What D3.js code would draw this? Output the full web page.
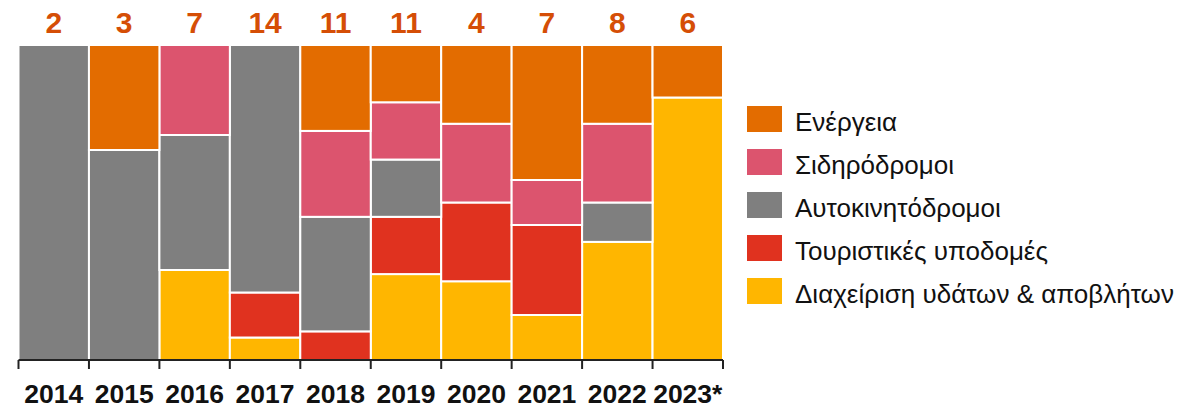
<!DOCTYPE html>
<html><head><meta charset="utf-8">
<script src="https://cdn.jsdelivr.net/npm/d3@7"></script>
<style>body{margin:0;background:#fff}svg{display:block;font-family:"Liberation Sans",Arial,sans-serif}</style>
</head><body>
<svg id="c" width="1188" height="408"></svg>
<script>
const years = ['2014','2015','2016','2017','2018','2019','2020','2021','2022','2023*'];
const categories = ['Ενέργεια','Σιδηρόδρομοι','Αυτοκινητόδρομοι','Τουριστικές υποδομές','Διαχείριση υδάτων & αποβλήτων'];
const energy  = [0,1,0,0,3,2,1,3,2,1];
const rail    = [0,0,2,0,3,2,1,1,2,0];
const roads   = [2,2,3,11,4,2,0,0,1,0];
const tourism = [0,0,0,2,1,2,1,2,0,0];
const water   = [0,0,2,1,0,3,1,1,3,5];
const colors = ['#E36C00','#DC546E','#7F7F7F','#E0321F','#FFB600'];

const series = [energy, rail, roads, tourism, water];
const rows = years.map((y,i)=>{const o={year:y}; categories.forEach((c,j)=>o[c]=series[j][i]); return o;});
const totals = years.map((y,i)=>series.reduce((s,a)=>s+a[i],0));

const svg = d3.select('#c');
const x = d3.scaleBand().domain(years).range([18.5,723]).padding(0);
const y = d3.scaleLinear().domain([0,1]).range([360,45]);
const color = d3.scaleOrdinal().domain(categories).range(colors);

const stack = d3.stack().keys(categories.slice().reverse()).offset(d3.stackOffsetExpand);
const stacked = stack(rows);

svg.append('g').selectAll('g').data(stacked).join('g')
  .attr('fill', d=>color(d.key))
  .selectAll('rect').data(d=>d.filter(p=>p[1]-p[0]>0)).join('rect')
  .attr('x', d=>x(d.data.year))
  .attr('width', x.bandwidth())
  .attr('y', d=>y(d[1]))
  .attr('height', d=>y(d[0])-y(d[1]))
  .attr('stroke','#fff').attr('stroke-width',2);

// axis
const ag = svg.append('g');
ag.append('line').attr('x1',18.5).attr('x2',723).attr('y1',360).attr('y2',360).attr('stroke','#222').attr('stroke-width',2);
const bounds = years.map(d=>x(d)).concat([x(years[years.length-1])+x.bandwidth()]);
ag.selectAll('line.t').data(bounds).join('line').attr('class','t')
  .attr('x1',d=>d).attr('x2',d=>d).attr('y1',360).attr('y2',369).attr('stroke','#222').attr('stroke-width',2);
ag.selectAll('text').data(years).join('text')
  .attr('x',d=>x(d)+x.bandwidth()/2).attr('y',403)
  .attr('text-anchor','middle').attr('font-weight','bold').attr('font-size',26.5).attr('fill','#111')
  .text(d=>d);

// totals
svg.append('g').selectAll('text').data(years).join('text')
  .attr('x',d=>x(d)+x.bandwidth()/2).attr('y',33)
  .attr('text-anchor','middle').attr('font-weight','bold').attr('font-size',30).attr('fill','#D54E06')
  .text((d,i)=>totals[i]);

// legend
const lg = svg.append('g').selectAll('g').data(categories).join('g')
  .attr('transform',(d,i)=>`translate(747,${106+i*43})`);
lg.append('rect').attr('width',35).attr('height',26).attr('fill',d=>color(d));
lg.append('text').attr('x',48).attr('y',25).attr('font-size',26).attr('fill','#111').text(d=>d);
</script>
</body></html>
